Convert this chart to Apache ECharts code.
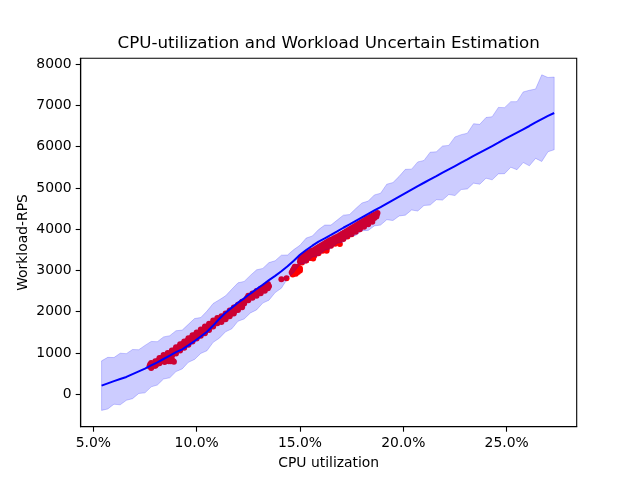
<!DOCTYPE html>
<html><head><meta charset="utf-8">
<script src="https://cdn.jsdelivr.net/npm/echarts@6/dist/echarts.min.js"></script>
<style>html,body{margin:0;padding:0;background:#fff}#c{width:640px;height:480px}</style>
</head><body><div id="c"></div>
<script>
// CPU utilization grid (%) for the estimate
const gridX = [5.4,5.7,6.0,6.3,6.6,6.9,7.2,7.5,7.8,8.1,8.4,8.7,9.0,9.3,9.6,9.9,10.2,10.5,10.8,11.1,11.4,11.7,12.0,12.3,12.6,12.9,13.2,13.5,13.8,14.1,14.4,14.7,15.0,15.3,15.6,15.9,16.2,16.5,16.8,17.1,17.4,17.7,18.0,18.3,18.6,18.9,19.2,19.5,19.8,20.1,20.4,20.7,21.0,21.3,21.6,21.9,22.2,22.5,22.8,23.1,23.4,23.7,24.0,24.3,24.6,24.9,25.2,25.5,25.8,26.1,26.4,26.7,27.0,27.3];
// Mean estimate (RPS)
const meanY = [210,265,320,370,420,490,555,620,700,775,855,935,1020,1090,1185,1290,1400,1515,1665,1830,1975,2100,2220,2325,2440,2550,2655,2765,2870,2980,3100,3235,3380,3495,3600,3700,3780,3860,3945,4035,4115,4200,4285,4370,4455,4535,4620,4705,4790,4875,4960,5045,5125,5205,5285,5370,5450,5530,5610,5690,5775,5855,5935,6015,6095,6180,6260,6340,6420,6500,6585,6665,6745,6815];
// Upper / lower uncertainty bounds (RPS)
const upperY = [810,895,890,995,985,1085,1080,1185,1280,1275,1390,1420,1540,1555,1695,1835,1860,2015,2200,2290,2385,2545,2700,2735,2880,3015,3050,3190,3235,3370,3375,3505,3610,3785,3835,3990,4100,4100,4220,4340,4355,4500,4635,4680,4830,4870,5090,5130,5280,5450,5455,5630,5665,5865,5875,6015,6030,6235,6290,6325,6555,6540,6705,6725,6950,6945,7090,7090,7325,7365,7395,7740,7675,7685];
const lowerY = [-390,-355,-240,-255,-145,-105,20,35,180,225,370,400,550,615,775,845,990,1055,1260,1360,1515,1585,1770,1825,1970,2045,2210,2280,2465,2570,2805,2955,3150,3175,3325,3360,3490,3530,3660,3690,3815,3850,3965,3970,4080,4100,4230,4210,4320,4340,4465,4440,4575,4585,4715,4705,4840,4815,4960,4975,5115,5090,5235,5195,5340,5345,5500,5440,5615,5535,5715,5640,5875,5925];
// Observed samples [CPU %, RPS]
const observedLow = [[7.72,680],[7.75,720],[7.8,660],[7.85,700],[7.9,735],[7.95,690],[8.0,760],[8.05,720],[8.1,800],[8.12,760],[8.18,830],[8.2,790],[8.25,870],[8.3,840],[8.33,880],[8.4,860],[8.42,910],[8.45,780],[8.5,930],[8.52,880],[8.58,950],[8.6,900],[8.65,800],[8.7,990],[8.72,940],[8.75,800],[8.78,1010],[8.8,960],[8.85,810],[8.85,1050],[8.9,790],[8.9,1000],[8.95,1080],[9.0,1040],[9.05,1110],[9.1,1070],[9.15,1150],[9.2,1120],[9.25,1200],[9.3,1150],[9.35,1230],[9.4,1190],[9.45,1270],[9.5,1220],[9.55,1300],[9.6,1260],[9.65,1340],[9.7,1290],[9.75,1370],[9.8,1330],[9.85,1420],[9.9,1370],[9.95,1440],[10.0,1400],[10.05,1470],[10.1,1430],[10.15,1500],[10.2,1470],[10.25,1540],[10.3,1500],[10.35,1560],[10.4,1530],[10.45,1610],[10.5,1570],[10.55,1640],[10.6,1600],[10.65,1680],[10.7,1640],[10.75,1710],[10.8,1690],[10.85,1760],[10.9,1720],[10.95,1790],[11.0,1760],[11.05,1830],[11.1,1800],[11.15,1840],
  [11.2,1790],[11.25,1860],[11.3,1820],[11.35,1890],[11.4,1860],[11.45,1930],[11.5,1900],[11.55,1960],[11.6,1930],[11.65,2000],[11.7,1970],[11.75,2030],[11.8,2000],[11.85,2070],[11.9,2040],[11.95,2100],[12.0,2080],[12.05,2150],[12.1,2120],[12.15,2190],[12.2,2160],[12.25,2220],[12.3,2200],
  [7.8,640],[7.8,760],[8.0,690],[8.0,800],[8.2,750],[8.2,880],[8.4,820],[8.4,950],[8.6,860],[8.6,1000],[8.8,920],[8.8,1060],[9.0,990],[9.0,1140],[9.2,1060],[9.2,1210],[9.4,1130],[9.4,1280],[9.6,1200],[9.6,1360],[9.8,1280],[9.8,1430],[10.0,1350],[10.0,1500],[10.2,1420],[10.2,1570],[10.4,1480],[10.4,1640],[10.6,1560],[10.6,1710],[10.8,1640],[10.8,1790],[11.0,1720],[11.0,1850],
  [11.2,1750],[11.2,1890],[11.4,1820],[11.4,1960],[11.6,1890],[11.6,2030],[11.8,1960],[11.8,2100],[12.0,2040],[12.0,2170],[12.2,2110],[12.2,2240]];
const observedMid = [[12.4,2300],[12.45,2340],[12.5,2320],[12.55,2370],[12.6,2350],[12.65,2390],[12.7,2380],[12.8,2420],[12.85,2450],[12.9,2440],[13.0,2480],[13.05,2510],[13.1,2500],[13.15,2540],[13.2,2530],[13.25,2570],[13.3,2560],[13.35,2600],[13.4,2590],[13.45,2630],[13.5,2620],
  [12.5,2280],[12.5,2390],[12.7,2340],[12.7,2440],[12.9,2390],[12.9,2500],[13.1,2450],[13.1,2560],[13.3,2510],[13.3,2620],[13.45,2570],[13.45,2670],
  [14.1,2790],[14.35,2810],[14.6,2950],[14.65,2900],[14.65,3000],[14.7,2930],[14.7,3040],[14.75,2970],[14.75,3090],[14.8,3070],[14.8,2920],[14.85,3010],[14.9,3090],[14.9,2960],[14.95,3040],[15.0,3000]];
const observedHigh = [[15.0,3050],[15.3,3250],[15.64,3290],[16.29,3480],[16.93,3640],
  [15.0,3210],[15.02,3270],[15.05,3320],[15.1,3240],[15.12,3300],[15.15,3360],[15.2,3260],[15.22,3330],[15.25,3380],[15.3,3290],[15.32,3360],[15.35,3410],[15.4,3320],[15.42,3380],[15.45,3440],[15.5,3350],[15.52,3410],[15.55,3470],[15.6,3380],[15.62,3440],[15.65,3490],[15.7,3410],[15.72,3470],[15.75,3520],[15.8,3440],[15.82,3500],[15.85,3550],[15.9,3470],[15.92,3530],[15.95,3580],[16.0,3500],[16.02,3560],[16.05,3610],[16.1,3530],[16.12,3590],[16.15,3640],[16.2,3560],[16.22,3620],[16.25,3670],[16.3,3590],[16.32,3650],[16.35,3700],[16.4,3620],[16.42,3680],[16.45,3730],[16.5,3650],[16.52,3705],[16.55,3750],[16.6,3670],[16.62,3730],[16.65,3780],[16.7,3700],[16.72,3760],[16.75,3805],[16.8,3730],[16.82,3790],[16.85,3830],[16.9,3760],[16.92,3815],[16.95,3860],[17.0,3780],[17.02,3840],[17.05,3890],[17.1,3810],[17.12,3870],[17.15,3920],[17.2,3840],[17.22,3900],[17.25,3950],[17.3,3870],[17.32,3930],[17.35,3980],[17.4,3900],[17.42,3960],[17.45,4010],[17.5,3930],[17.52,3990],[17.55,4040],[17.6,3960],[17.62,4020],[17.65,4070],[17.7,3990],[17.72,4050],[17.75,4100],[17.8,4020],[17.82,4080],[17.85,4130],[17.9,4050],[17.92,4110],[17.95,4160],[18.0,4080],[18.02,4140],[18.05,4190],[18.1,4110],[18.12,4170],[18.15,4220],[18.2,4140],[18.22,4200],[18.25,4250],[18.3,4170],[18.32,4230],[18.35,4280],[18.4,4200],[18.42,4260],[18.45,4310],[18.5,4230],[18.52,4290],[18.55,4340],[18.6,4270],[18.62,4320],[18.65,4360],[18.7,4310],[18.72,4360],[18.75,4390],
  [15.1,3190],[15.3,3240],[15.5,3300],[15.7,3360],[15.9,3420],[16.1,3480],[16.3,3540],[16.5,3600],[16.7,3650],[16.9,3710],[17.1,3760],[17.3,3820],[17.5,3880],[17.7,3940],[17.9,4000],[18.1,4060],[18.3,4120],[18.5,4180]];
// Tick labels
const xTicks = [5, 10, 15, 20, 25];
const yTicks = [0, 1000, 2000, 3000, 4000, 5000, 6000, 7000, 8000];

const FONT = 'DejaVu Sans';
const chart = echarts.init(document.getElementById('c'), null, {renderer: 'canvas'});
const observed = observedLow.concat(observedMid, observedHigh);

chart.setOption({
  animation: false,
  backgroundColor: '#ffffff',
  title: {
    text: 'CPU-utilization and Workload Uncertain Estimation',
    left: 328.7, top: 35, padding: 0, textAlign: 'center',
    textStyle: {fontFamily: FONT, fontSize: 16.7, fontWeight: 'normal', color: '#000'}
  },
  grid: {left: 80.7, right: 63.3, top: 58.3, bottom: 53.3, show: true, borderColor: '#000', borderWidth: 1.1, backgroundColor: 'transparent', containLabel: false},
  xAxis: {
    type: 'value', min: 4.39, max: 28.39,
    name: 'CPU utilization', nameLocation: 'middle', nameGap: 30, nameMoveOverlap: false,
    nameTextStyle: {fontFamily: FONT, fontSize: 13.9, color: '#000'},
    axisLine: {show: true, onZero: false, lineStyle: {color: '#000', width: 1.1}},
    axisTick: {show: true, inside: false, length: 5, lineStyle: {color: '#000', width: 1.1}, customValues: xTicks},
    axisLabel: {fontFamily: FONT, fontSize: 13.9, color: '#000', margin: 10, customValues: xTicks,
      formatter: v => v.toFixed(1) + '%'},
    splitLine: {show: false}
  },
  yAxis: {
    type: 'value', min: -785, max: 8140,
    name: 'Workload-RPS', nameLocation: 'middle', nameGap: 50, nameRotate: 90, nameMoveOverlap: false,
    nameTextStyle: {fontFamily: FONT, fontSize: 13.9, color: '#000'},
    axisLine: {show: true, onZero: false, lineStyle: {color: '#000', width: 1.1}},
    axisTick: {show: true, inside: false, length: 5, lineStyle: {color: '#000', width: 1.1}, customValues: yTicks},
    axisLabel: {fontFamily: FONT, fontSize: 13.9, color: '#000', margin: 9, customValues: yTicks,
      formatter: v => String(v)},
    splitLine: {show: false}
  },
  series: [
    {
      type: 'scatter', z: 2, name: 'observed',
      data: observed, symbol: 'circle', symbolSize: 6,
      itemStyle: {color: '#ff0000', opacity: 1}, silent: true
    },
    {
      type: 'custom', z: 3, name: 'band', silent: true,
      data: [[gridX[0], meanY[0]]],
      renderItem: function (params, api) {
        if (params.dataIndex !== 0) return null;
        const pts = [];
        for (let i = 0; i < gridX.length; i++) pts.push(api.coord([gridX[i], upperY[i]]));
        for (let i = gridX.length - 1; i >= 0; i--) pts.push(api.coord([gridX[i], lowerY[i]]));
        return {type: 'polygon', shape: {points: pts},
          style: {fill: 'rgba(0,0,255,0.2)', stroke: 'rgba(0,0,255,0.2)', lineWidth: 1}};
      }
    },
    {
      type: 'line', z: 4, name: 'mean',
      data: gridX.map((x, i) => [x, meanY[i]]),
      showSymbol: false, symbol: 'none', smooth: false,
      lineStyle: {color: '#0000ff', width: 2}, silent: true
    }
  ]
});
</script>
</body></html>
